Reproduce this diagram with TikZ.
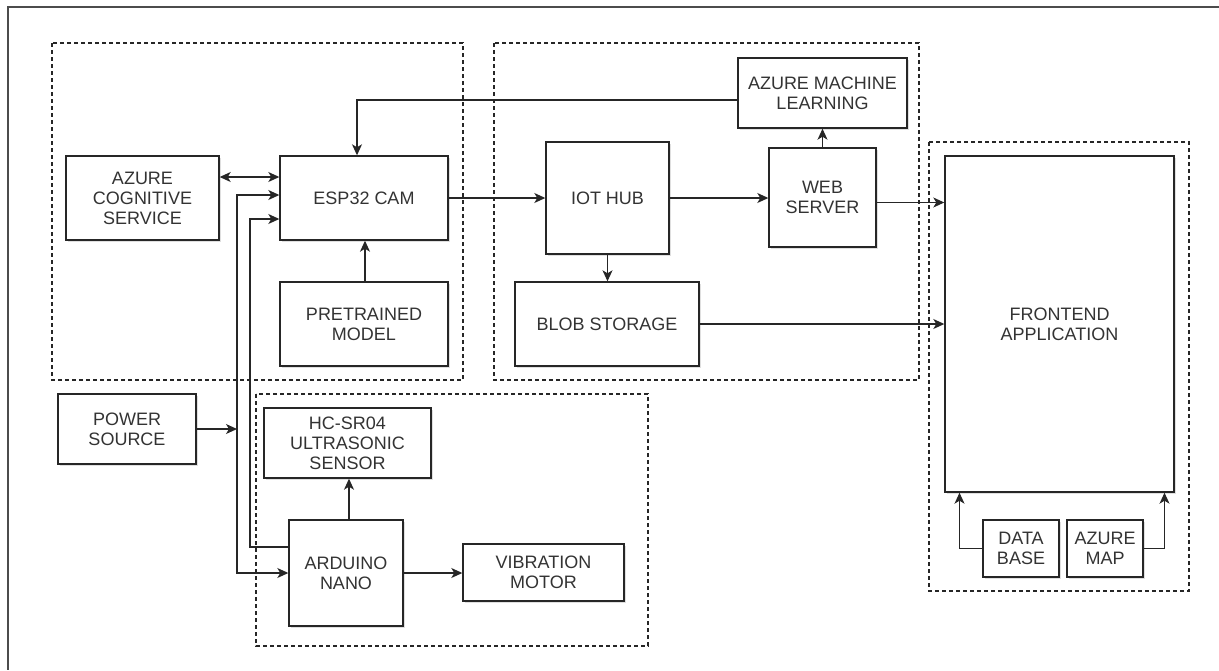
\documentclass[tikz,border=0pt]{standalone}
\usepackage{fontspec}
\setmainfont{Liberation Sans}
\usetikzlibrary{
    arrows.meta,
    positioning,
    calc,
    shadows
}
\tikzset{
    % --- Component block (hardware or cloud service) ---
    block/.style = {
        rectangle, draw=black!85, line width=1.4pt, fill=white,
        align=center, inner sep=2pt,
        font=\fontsize{18}{20}\selectfont, text=black!80,
        drop shadow={shadow xshift=2pt, shadow yshift=-2pt, opacity=0.25}
    },
    % --- Block size in picture units ---
    box size/.style 2 args = {
        minimum width=#1pt, minimum height=#2pt
    },
    % --- Dashed enclosure (subsystem) ---
    group/.style = {
        draw=black!85, line width=1.1pt, dash pattern=on 4pt off 3pt
    },
    % --- Connector wire ---
    wire/.style = {
        draw=black!85, line width=1.2pt
    },
    % --- Arrow tip used on every wire ---
    tip/.tip = {Stealth[length=11pt, width=10pt, inset=3pt]},
    data arrow/.style = {wire, -tip},
    both arrow/.style = {wire, tip-tip},
    % --- Screenshot frame ---
    frame/.style = {
        draw=black!70, line width=2pt
    }
}

\begin{document}
\begin{tikzpicture}[x=1pt, y=-1pt]
\useasboundingbox (0,0) rectangle (1219,670);

% ---------------------------------------------------------
% Frame and subsystem enclosures
% ---------------------------------------------------------
\draw[frame] (1219,7) -- (8,7) -- (8,670);

\draw[group] (52,43) rectangle (463,380);    % camera unit
\draw[group] (494,43) rectangle (919,380);   % cloud
\draw[group] (929,142) rectangle (1189,591); % frontend
\draw[group] (256,394) rectangle (648,646);  % arduino unit

% ---------------------------------------------------------
% 1. Camera unit
% ---------------------------------------------------------
\node[block, box size={153}{84}] (Cog) at (142.5,198) {AZURE\\COGNITIVE\\SERVICE};
\node[block, box size={168}{84}] (Esp) at (364,198) {ESP32 CAM};
\node[block, box size={168}{84}] (Model) at (364,324) {PRETRAINED\\MODEL};

% ---------------------------------------------------------
% 2. Cloud
% ---------------------------------------------------------
\node[block, box size={169}{70}] (Aml) at (822.5,93) {AZURE MACHINE\\LEARNING};
\node[block, box size={123}{112}] (Hub) at (607.5,198) {IOT HUB};
\node[block, box size={107}{99}] (Web) at (822.5,197.5) {WEB\\SERVER};
\node[block, box size={184}{84}] (Blob) at (607,324) {BLOB STORAGE};

% ---------------------------------------------------------
% 3. Frontend
% ---------------------------------------------------------
\node[block, box size={229}{336}] (Front) at (1059.5,324) {FRONTEND\\APPLICATION};
\node[block, box size={76}{57}] (Db) at (1021,548.5) {DATA\\BASE};
\node[block, box size={76}{57}] (Map) at (1105,548.5) {AZURE\\MAP};

% ---------------------------------------------------------
% 4. Arduino unit and power
% ---------------------------------------------------------
\node[block, box size={138}{70}] (Power) at (127,429) {POWER\\SOURCE};
\node[block, box size={167}{70}] (Sonar) at (347.5,443) {HC-SR04\\ULTRASONIC\\SENSOR};
\node[block, box size={114}{106}] (Nano) at (346,573) {ARDUINO\\NANO};
\node[block, box size={161}{57}] (Motor) at (543.5,572.5) {VIBRATION\\MOTOR};

% ---------------------------------------------------------
% 5. Wiring
% ---------------------------------------------------------
\draw[both arrow] ([yshift=21pt]Cog.east) -- ([yshift=21pt]Cog.east -| Esp.west);
\draw[data arrow] ([yshift=-7pt]Aml.west) -| ([xshift=-7pt]Esp.north);
\draw[data arrow] ([xshift=1pt]Model.north) -- ([xshift=1pt]Esp.south);

\draw[data arrow] (Esp.east) -- (Esp.east -| Hub.west);
\draw[data arrow] (Hub.east) -- (Hub.east -| Web.west);
\draw[data arrow] (Web.north) -- (Web.north |- Aml.south);
\draw[data arrow] (Hub.south) -- (Hub.south |- Blob.north);
\draw[data arrow] ([yshift=-5pt]Web.east) -- ([yshift=-5pt]Web.east -| Front.west);
\draw[data arrow] (Blob.east) -- (Blob.east -| Front.west);
\draw[data arrow] (Db.west) -| ([xshift=-100pt]Front.south);
\draw[data arrow] (Map.east) -| ([xshift=105pt]Front.south);

% Power bus -> ESP32 and Arduino
\coordinate (PowerBus) at (237,429);
\draw[data arrow] (Power) -- (PowerBus);
\draw[data arrow] (PowerBus) |- ([yshift=3pt]Esp.west);
\draw[data arrow] (PowerBus) |- (Nano.west);

% Arduino -> ESP32
\coordinate (SensorBus) at (250,400);
\draw[data arrow] ([yshift=26pt]Nano.west) -| (SensorBus) |- ([yshift=-21pt]Esp.west);

\draw[data arrow] ([xshift=3pt]Nano.north) -- ([xshift=3pt]Nano.north |- Sonar.south);
\draw[data arrow] (Nano.east) -- (Nano.east -| Motor.west);

\end{tikzpicture}
\end{document}
